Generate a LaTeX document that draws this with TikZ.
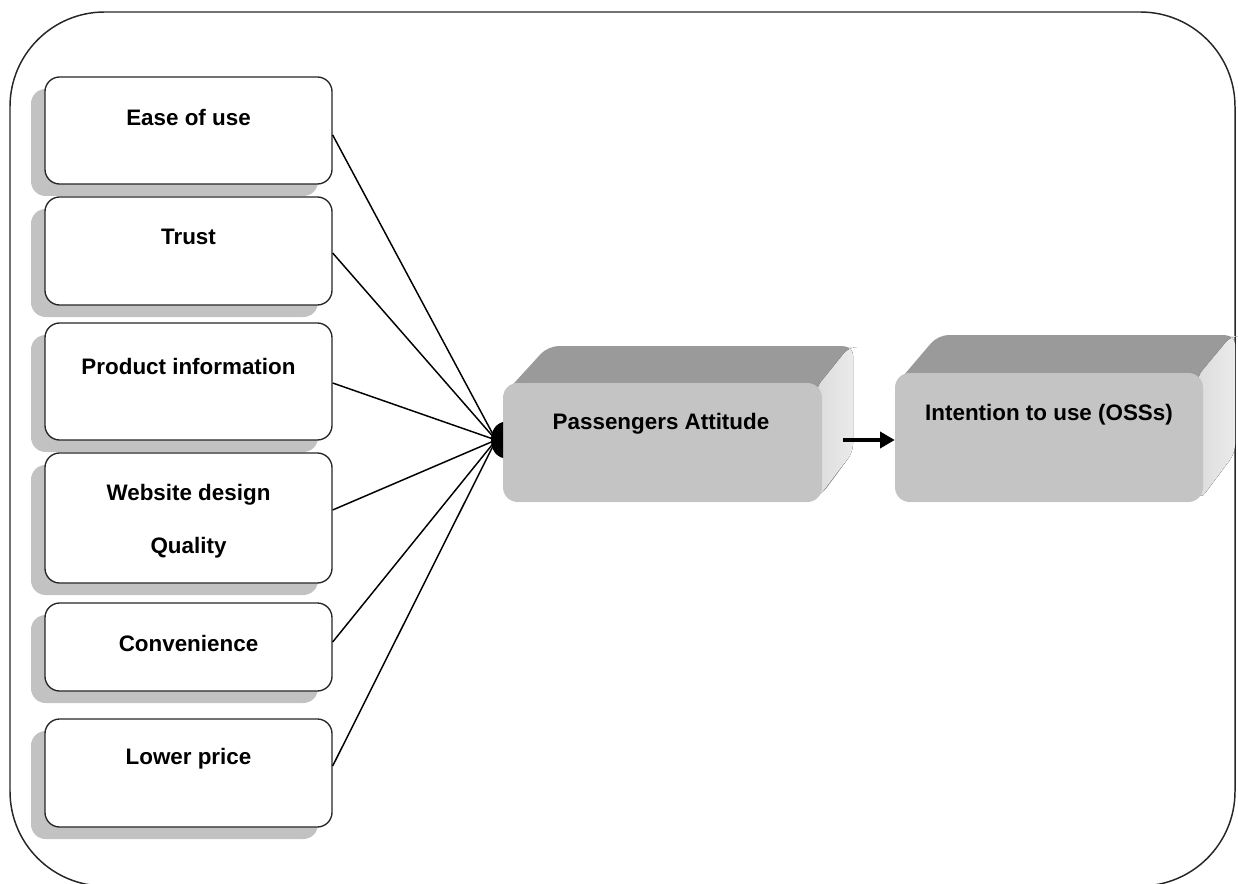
\documentclass[tikz,border=0pt]{standalone}
\usepackage{fontspec}
\setmainfont{Liberation Sans}
\usetikzlibrary{arrows.meta,shadows}
\definecolor{shadowgray}{HTML}{C2C2C2}
\definecolor{frontgray}{HTML}{C4C4C4}
\definecolor{topgray}{HTML}{9A9A9A}
\definecolor{sidegray}{HTML}{DCDCDC}
\begin{document}
\begin{tikzpicture}[x=0.75pt,y=-0.75pt,
  factor/.style={draw=black!85, line width=1pt, fill=white, rounded corners=11pt,
    minimum width=215.25pt, inner sep=0pt,
    drop shadow={shadow xshift=-10.5pt, shadow yshift=-9pt, fill=shadowgray, opacity=1}},
  lbl/.style={font=\bfseries\fontsize{16.8}{40}\selectfont, align=center, inner sep=0pt},
  front/.style={fill=frontgray, rounded corners=11pt, inner sep=0pt},
  topface/.style={fill=topgray, rounded corners=8pt},
  sideface/.style={left color=sidegray, right color=white!92!black, rounded corners=6pt},
  conn/.style={line width=1.1pt, black},
  arr/.style={line width=2.6pt, -{Triangle[length=11pt,width=12pt]}},
  frame/.style={draw=black!85, line width=1.1pt, rounded corners=71pt}]
\useasboundingbox (0,0) rectangle (1238,884);
\begin{scope}
\clip (0,0) rectangle (1238,884);
\draw[frame] (10,12) rectangle (1235,886);
\end{scope}
% factor boxes
\node[factor, minimum height=80.25pt] (f1) at (188.5,130.5) {};
\node[factor, minimum height=81pt] (f2) at (188.5,251) {};
\node[factor, minimum height=87.75pt] (f3) at (188.5,381.5) {};
\node[factor, minimum height=97.5pt] (f4) at (188.5,518) {};
\node[factor, minimum height=66pt] (f5) at (188.5,647) {};
\node[factor, minimum height=81pt] (f6) at (188.5,773) {};
\node[lbl] (t1) at (188.5,117) {Ease of use};
\node[lbl] (t2) at (188.5,237) {Trust};
\node[lbl] (t3) at (188.5,366) {Product information};
\node[lbl] (t4) at (188.5,521.5) {Website design\\Quality};
\node[lbl] (t5) at (188.5,643) {Convenience};
\node[lbl] (t6) at (188.5,759) {Lower price};
% Passengers Attitude 3D box
\fill[topface] (506,392) -- (548,346) -- (853,346) -- (853,452) -- (820,497) -- cycle;
\fill[sideface] (816,388) -- (849,347) -- (853,347) -- (853,452) -- (818,498) -- cycle;
\node[front, minimum width=239.25pt, minimum height=89.25pt] (pa) at (662.5,442.5) {};
\node[lbl] (tpa) at (661,424) {Passengers Attitude};
% Intention 3D box
\fill[topface] (898,382) -- (938,335) -- (1235,335) -- (1235,453) -- (1200,500) -- cycle;
\fill[sideface] (1197,377) -- (1231,336) -- (1235,336) -- (1235,453) -- (1200,500) -- cycle;
\node[front, minimum width=231pt, minimum height=96.75pt] (it) at (1049,437.5) {};
\node[lbl] (tit) at (1049,415) {Intention to use (OSSs)};
% connectors
\coordinate (hub) at (496,440);
\draw[conn] (f1.east |- 0,135) -- (hub);
\draw[conn] (f2.east |- 0,253) -- (hub);
\draw[conn] (f3.east |- 0,383) -- (hub);
\draw[conn] (f4.east |- 0,510) -- (hub);
\draw[conn] (f5.east |- 0,642) -- (hub);
\draw[conn] (f6.east |- 0,766) -- (hub);
\fill[black] (503,422) .. controls (487,426) and (487,454) .. (503,458) -- cycle;
\coordinate (astart) at (843,440);
\draw[arr] (astart) -- (it.west |- astart);
\end{tikzpicture}
\end{document}
